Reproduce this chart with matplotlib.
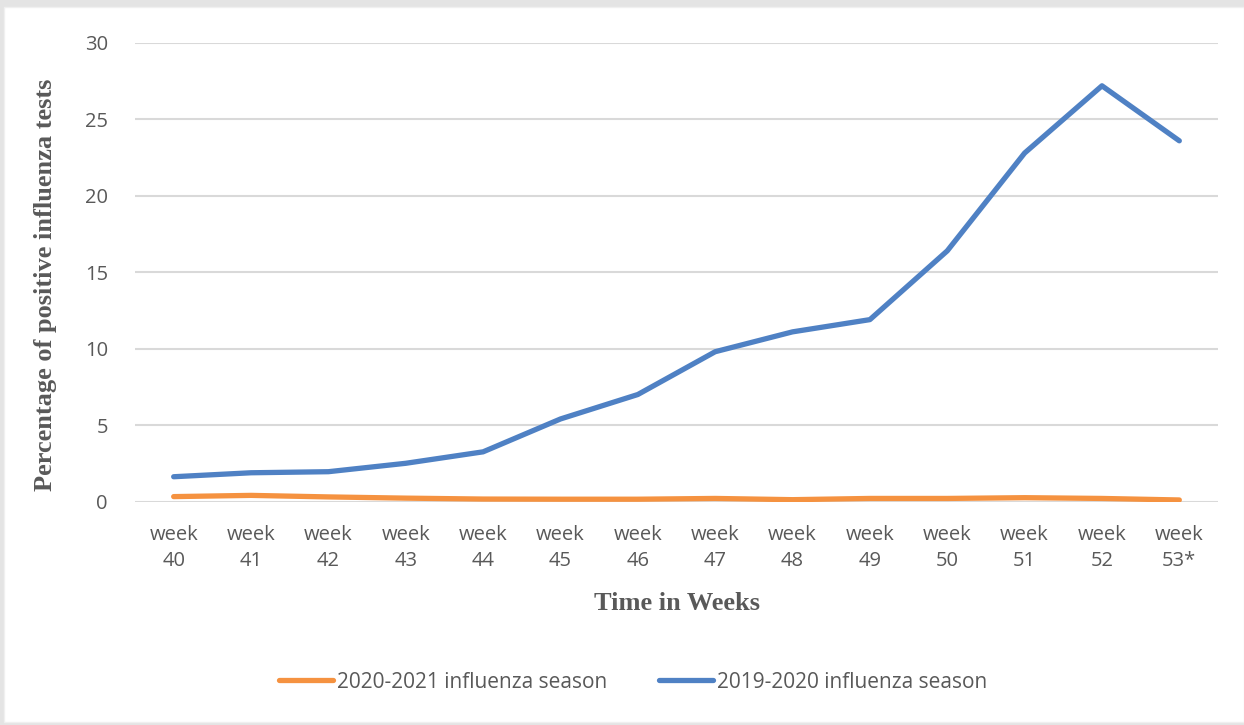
import matplotlib
matplotlib.use("Agg")
import matplotlib.pyplot as plt
from matplotlib.patches import Rectangle

# Weekly share of positive influenza tests (%)
weeks = ["week\n40", "week\n41", "week\n42", "week\n43", "week\n44", "week\n45", "week\n46",
         "week\n47", "week\n48", "week\n49", "week\n50", "week\n51", "week\n52", "week\n53*"]
season_2020_2021 = [0.32, 0.40, 0.30, 0.22, 0.16, 0.15, 0.15, 0.20, 0.12, 0.20, 0.20, 0.25, 0.20, 0.10]
season_2019_2020 = [1.62, 1.88, 1.95, 2.50, 3.25, 5.40, 7.00, 9.80, 11.10, 11.90, 16.40, 22.80, 27.20, 23.60]
y_ticks = [0, 5, 10, 15, 20, 25, 30]

W, H = 1244, 725
fig = plt.figure(figsize=(W / 100, H / 100), dpi=100)
fig.patch.set_facecolor("#e4e4e4")
# white card
fig.add_artist(Rectangle((4 / W, 3 / H), 1 - 4 / W, 1 - 10 / H, transform=fig.transFigure,
                         facecolor="white", edgecolor="#f0f0f0", linewidth=1, zorder=0))

ax = fig.add_axes([135 / W, 1 - 501.5 / H, (1218 - 135) / W, (501.5 - 43) / H])
ax.set_facecolor("none")

x = list(range(len(weeks)))
orange = "#F59240"
blue = "#4F81C4"
ax.plot(x, season_2020_2021, color=orange, lw=3.8, solid_capstyle="round",
        solid_joinstyle="round", label="2020-2021 influenza season", zorder=3)
ax.plot(x, season_2019_2020, color=blue, lw=3.8, solid_capstyle="round",
        solid_joinstyle="round", label="2019-2020 influenza season", zorder=3)

tick_size = 14.5
ax.set_xlim(-0.5, len(weeks) - 0.5)
ax.set_ylim(0, 30)
ax.set_yticks(y_ticks)
ax.set_xticks(x)
ax.set_xticklabels(weeks, linespacing=1.38)
ax.grid(axis="y", color="#d9d9d9", lw=1.5, zorder=0)
for s in ax.spines.values():
    s.set_visible(False)
ax.tick_params(axis="both", length=0, labelsize=tick_size, labelcolor="#595959")
ax.tick_params(axis="y", pad=19.5)
ax.tick_params(axis="x", pad=17)
for lab in ax.get_xticklabels() + ax.get_yticklabels():
    lab.set_fontfamily("Open Sans")

ax.set_xlabel("Time in Weeks", fontfamily="Liberation Serif", fontweight="bold",
              fontsize=19, color="#595959", va="center")
ax.xaxis.set_label_coords(0.5, (501.5 - 603) / 458.5)
ax.set_ylabel("Percentage of positive influenza tests", fontfamily="Liberation Serif",
              fontweight="bold", fontsize=19, color="#595959", va="center")
ax.yaxis.set_label_coords((46 - 135) / 1083, (501.5 - 285) / 458.5)

fig.legend(loc="center", bbox_to_anchor=(633 / W, 1 - 682 / H), ncol=2, frameon=False,
           handlelength=2.6, handletextpad=0.2, columnspacing=2.45,
           prop={"family": "Open Sans", "size": 15}, labelcolor="#595959")

fig.savefig("out.png", dpi=100, facecolor=fig.get_facecolor())
